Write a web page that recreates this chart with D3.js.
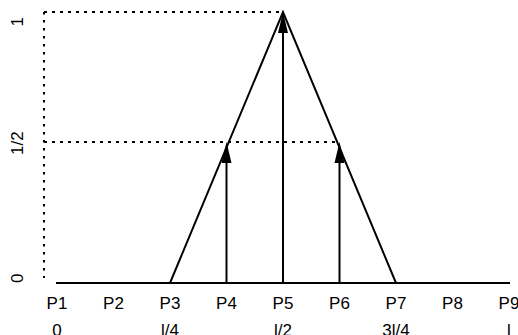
<!DOCTYPE html>
<html>
<head>
<meta charset="utf-8">
<script src="https://cdn.jsdelivr.net/npm/d3@7"></script>
<style>
  html, body { margin: 0; padding: 0; background: #fff; }
  svg { display: block; }
  text { font-family: "Liberation Sans", Arial, Helvetica, sans-serif; font-size: 17px; fill: #000; }
</style>
</head>
<body>
<svg id="chart" width="518" height="335"></svg>
<script>
// positions P1..P9 on the base line
const pointLabels = ['P1', 'P2', 'P3', 'P4', 'P5', 'P6', 'P7', 'P8', 'P9'];
const lengthLabels = [[0, '0'], [2, 'l/4'], [4, 'l/2'], [6, '3l/4'], [8, 'l']];

// triangle (influence line) vertices: [position index, value]
const triangle = [[2, 0], [4, 1], [6, 0]];

// arrows: [position index, height]
const arrowX = [3, 4, 5];
const arrowH = [0.52, 1, 0.52];

// y tick labels: [value, label]
const yTicks = [[0, '0'], [0.52, '1/2'], [1, '1']];

const svg = d3.select('#chart');

const x = d3.scaleLinear().domain([0, 8]).range([57, 509]);
const y = d3.scaleLinear().domain([0, 1]).range([283, 12]);

const axisX = 44;

// base line
svg.append('line')
  .attr('x1', x(0) - 1).attr('x2', x(8) + 1)
  .attr('y1', y(0)).attr('y2', y(0))
  .attr('stroke', '#000').attr('stroke-width', 2);

// dotted y axis line
svg.append('line')
  .attr('x1', axisX).attr('x2', axisX)
  .attr('y1', y(1)).attr('y2', y(0) - 5)
  .attr('stroke', '#000').attr('stroke-width', 2)
  .attr('stroke-dasharray', '2.5,5.5');

// dotted guide lines to arrow tips (only the top two levels)
const guides = arrowX.map((d, i) => [d, arrowH[i]])
  .filter(d => d[1] > 0);
const guideEnds = d3.rollups(guides, v => d3.max(v, g => g[0]), g => g[1]);
svg.append('g').selectAll('line')
  .data(guideEnds)
  .join('line')
  .attr('x1', axisX)
  .attr('x2', d => x(d[1]))
  .attr('y1', d => y(d[0]))
  .attr('y2', d => y(d[0]))
  .attr('stroke', '#000').attr('stroke-width', 2)
  .attr('stroke-dasharray', '3,5');

// triangle
const line = d3.line().x(d => x(d[0])).y(d => y(d[1]));
svg.append('path')
  .attr('d', line(triangle))
  .attr('fill', 'none')
  .attr('stroke', '#000').attr('stroke-width', 2)
  .attr('stroke-linejoin', 'miter');

// arrows
const headLen = 21, headW = 10;
const arrows = svg.append('g').selectAll('g')
  .data(arrowX.map((d, i) => ({ p: d, h: arrowH[i] })))
  .join('g');

arrows.append('line')
  .attr('x1', d => x(d.p)).attr('x2', d => x(d.p))
  .attr('y1', y(0)).attr('y2', d => y(d.h) + headLen - 2)
  .attr('stroke', '#000').attr('stroke-width', 2);

arrows.append('path')
  .attr('d', d => {
    const cx = x(d.p), ty = y(d.h);
    return `M${cx},${ty}L${cx + headW / 2},${ty + headLen}L${cx - headW / 2},${ty + headLen}Z`;
  })
  .attr('fill', '#000');

// x labels
svg.append('g').selectAll('text')
  .data(pointLabels)
  .join('text')
  .attr('x', (d, i) => x(i))
  .attr('y', 309)
  .attr('text-anchor', 'middle')
  .text(d => d);

svg.append('g').selectAll('text')
  .data(lengthLabels)
  .join('text')
  .attr('x', d => x(d[0]))
  .attr('y', 336)
  .attr('text-anchor', 'middle')
  .text(d => d[1]);

// y labels (rotated)
const anchorFor = v => v === 0 ? 'start' : (v === 1 ? 'end' : 'middle');
const shiftFor = v => v === 1 ? 5 : (v === 0 ? 0 : 1);
svg.append('g').selectAll('text')
  .data(yTicks)
  .join('text')
  .attr('transform', d => `translate(23,${y(d[0]) + shiftFor(d[0])}) rotate(-90)`)
  .attr('text-anchor', d => anchorFor(d[0]))
  .text(d => d[1]);
</script>
</body>
</html>
